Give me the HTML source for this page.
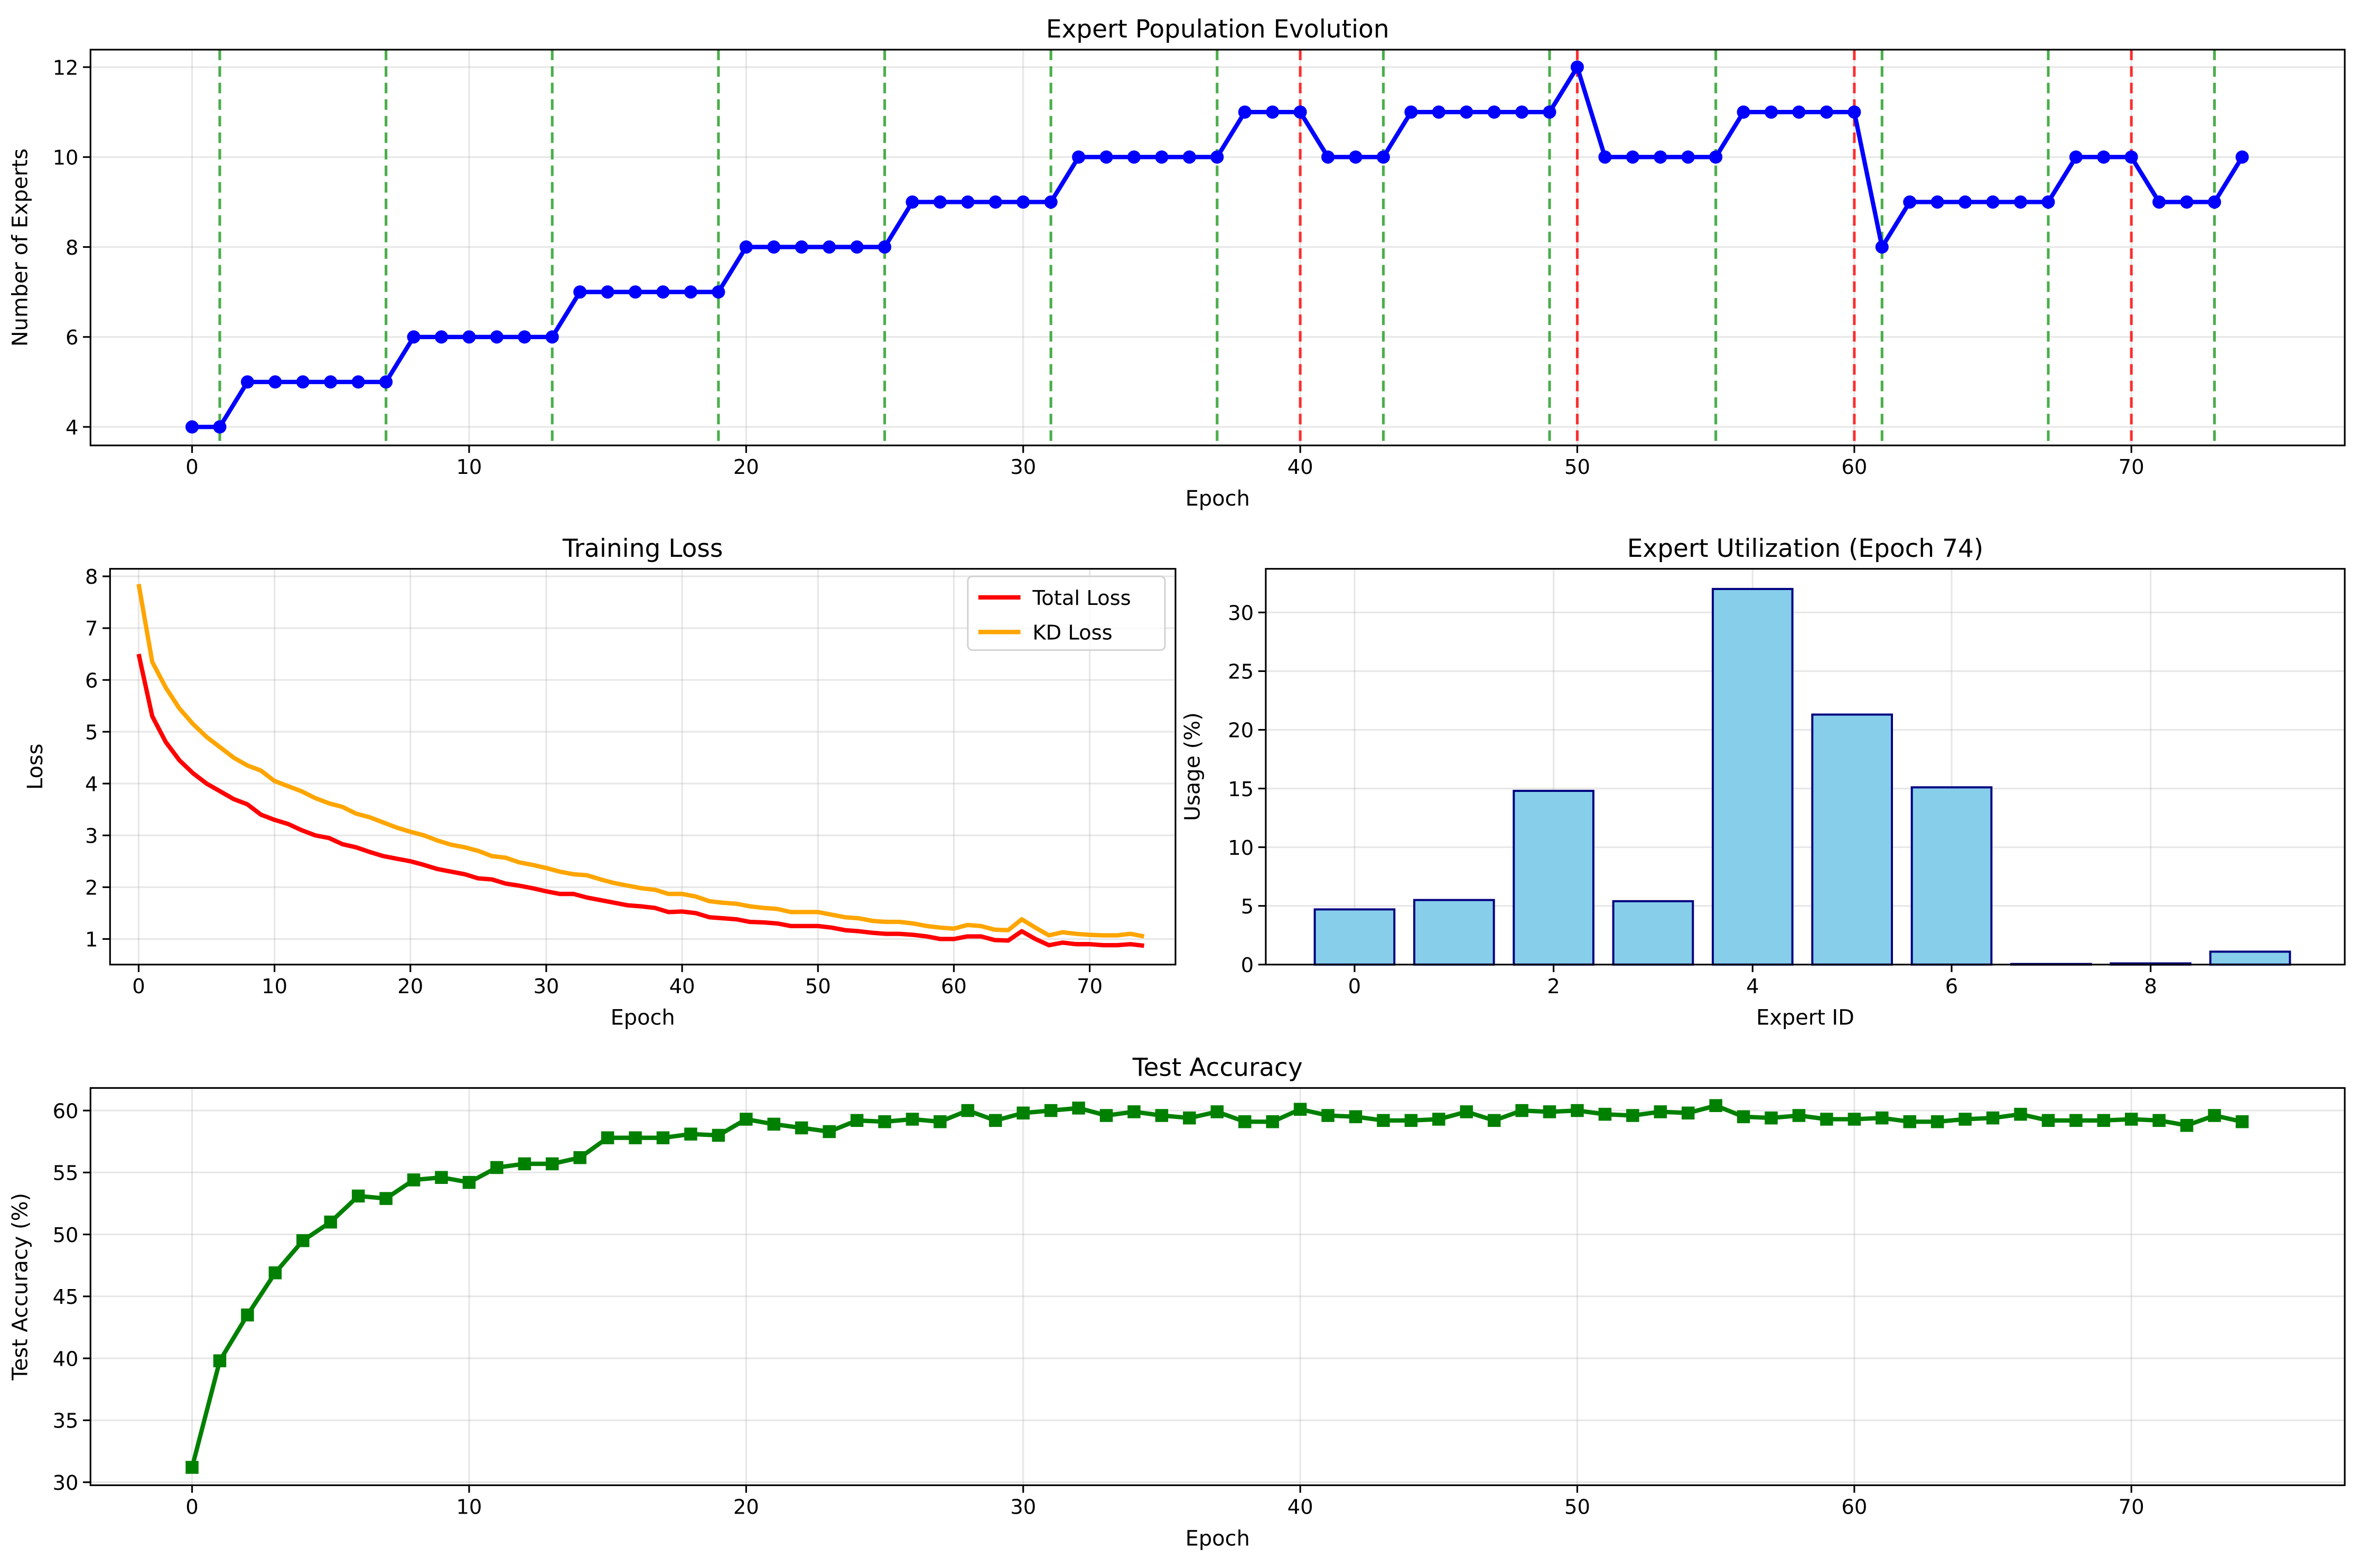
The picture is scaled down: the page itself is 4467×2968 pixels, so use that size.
<!DOCTYPE html>
<html><head><meta charset="utf-8"><style>
html,body{margin:0;padding:0;background:#fff}
svg{display:block}
text{font-family:"DejaVu Sans","Liberation Sans",sans-serif;fill:#000}
</style></head><body>
<svg id="fig" width="4467" height="2968" viewBox="0 0 1568 1042" xmlns="http://www.w3.org/2000/svg"></svg>
<script>
const popEpochs = Array.from({length:75},(_,i)=>i);
const popCounts = [4,4,5,5,5,5,5,5,6,6,6,6,6,6,7,7,7,7,7,7,8,8,8,8,8,8,9,9,9,9,9,9,10,10,10,10,10,10,11,11,11,10,10,10,11,11,11,11,11,11,12,10,10,10,10,10,11,11,11,11,11,8,9,9,9,9,9,9,10,10,10,9,9,9,10];
const addEvents = [1,7,13,19,25,31,37,43,49,55,61,67,73];
const pruneEvents = [40,50,60,70];
const totalLoss = [6.5,5.3,4.8,4.45,4.2,4.0,3.85,3.7,3.6,3.4,3.3,3.22,3.1,3.0,2.95,2.83,2.77,2.68,2.6,2.55,2.5,2.43,2.35,2.3,2.25,2.17,2.15,2.07,2.03,1.98,1.92,1.87,1.87,1.8,1.75,1.7,1.65,1.63,1.6,1.52,1.53,1.5,1.42,1.4,1.38,1.33,1.32,1.3,1.25,1.25,1.25,1.22,1.17,1.15,1.12,1.1,1.1,1.08,1.05,1.0,1.0,1.05,1.05,0.98,0.97,1.15,1.0,0.88,0.93,0.9,0.9,0.88,0.88,0.9,0.87];
const kdLoss = [7.85,6.35,5.85,5.45,5.15,4.9,4.7,4.5,4.35,4.25,4.05,3.95,3.85,3.72,3.62,3.55,3.42,3.35,3.25,3.15,3.07,3.0,2.9,2.82,2.77,2.7,2.6,2.57,2.48,2.43,2.37,2.3,2.25,2.23,2.15,2.08,2.03,1.98,1.95,1.87,1.87,1.82,1.73,1.7,1.68,1.63,1.6,1.58,1.52,1.52,1.52,1.47,1.42,1.4,1.35,1.33,1.33,1.3,1.25,1.22,1.2,1.27,1.25,1.18,1.17,1.38,1.22,1.07,1.13,1.1,1.08,1.07,1.07,1.1,1.05];
const expertIds = [0,1,2,3,4,5,6,7,8,9];
const usage = [4.7,5.5,14.8,5.4,32.0,21.3,15.1,0.05,0.1,1.1];
const accuracy = [31.2,39.8,43.5,46.9,49.5,51.0,53.1,52.9,54.4,54.6,54.2,55.4,55.7,55.7,56.2,57.8,57.8,57.8,58.1,58.0,59.3,58.9,58.6,58.3,59.2,59.1,59.3,59.1,60.0,59.2,59.8,60.0,60.2,59.6,59.9,59.6,59.4,59.9,59.1,59.1,60.1,59.6,59.5,59.2,59.2,59.3,59.9,59.2,60.0,59.9,60.0,59.7,59.6,59.9,59.8,60.4,59.5,59.4,59.6,59.3,59.3,59.4,59.1,59.1,59.3,59.4,59.7,59.2,59.2,59.2,59.3,59.2,58.8,59.6,59.1];
const epochTicks = [0,10,20,30,40,50,60,70];
const popTicks = [4,6,8,10,12];
const lossTicks = [1,2,3,4,5,6,7,8];
const idTicks = [0,2,4,6,8];
const usageTicks = [0,5,10,15,20,25,30];
const accTicks = [30,35,40,45,50,55,60];

const NS="http://www.w3.org/2000/svg";
const svg=document.getElementById('fig');
function el(tag,attrs,parent,txt){const e=document.createElementNS(NS,tag);for(const k in attrs)e.setAttribute(k,attrs[k]);if(txt!==undefined)e.textContent=txt;(parent||svg).appendChild(e);return e;}
function lin(d0,d1,r0,r1){return v=>r0+(v-d0)*(r1-r0)/(d1-d0);}

function axes(name,box,xs,ys,xt,yt,title,xl,yl,ylx){
  const g=el('g',{},svg);
  
  
  const [L,T,R,B]=box;
  xt.forEach(v=>{const l=el('line',{x1:xs(v),x2:xs(v),y1:T,y2:B,stroke:'#b0b0b0','stroke-opacity':0.3,'stroke-width':1.1},g);});
  yt.forEach(v=>{const l=el('line',{x1:L,x2:R,y1:ys(v),y2:ys(v),stroke:'#b0b0b0','stroke-opacity':0.3,'stroke-width':1.1},g);});
  const plot=el('g',{},g);
  
  
  const fr=el('rect',{x:L,y:T,width:R-L,height:B-T,fill:'none',stroke:'#000','stroke-width':1.1},g);
  
  xt.forEach(v=>{el('line',{x1:xs(v),x2:xs(v),y1:B,y2:B+5,stroke:'#000','stroke-width':1.1},g);
    const t=el('text',{x:xs(v),y:B+19,'font-size':13.5,'text-anchor':'middle'},g,String(v));});
  yt.forEach(v=>{el('line',{x1:L-5,x2:L,y1:ys(v),y2:ys(v),stroke:'#000','stroke-width':1.1},g);
    const t=el('text',{x:L-8,y:ys(v)+5,'font-size':13.5,'text-anchor':'end'},g,String(v));});
  const tt=el('text',{x:(L+R)/2,y:T-8,'font-size':16.5,'text-anchor':'middle'},g,title);
  const xlab=el('text',{x:(L+R)/2,y:B+40,'font-size':14,'text-anchor':'middle'},g,xl);
  const ylab=el('text',{x:ylx,y:(T+B)/2,'font-size':14,'text-anchor':'middle',transform:`rotate(-90 ${ylx} ${(T+B)/2})`},g,yl);
  // move frame to top
  g.appendChild(fr);
  return plot;
}
function polyline(g,xs,ys,xsArr,ysArr,color,name){
  const p=el('polyline',{points:xsArr.map((x,i)=>xs(x)+','+ys(ysArr[i])).join(' '),fill:'none',stroke:color,'stroke-width':2.9,'stroke-linejoin':'round'},g);
  return p;
}

// Top
{
  const xs=lin(0,70,127.5,1416.2), ys=lin(4,12,283.7,44.6);
  const g=axes('expert-population-chart',[60,33,1558,296],xs,ys,epochTicks,popTicks,'Expert Population Evolution','Epoch','Number of Experts',18);
  addEvents.forEach(e=>{const l=el('line',{x1:xs(e),x2:xs(e),y1:33,y2:296,stroke:'#2ca02c','stroke-opacity':0.85,'stroke-width':1.8,'stroke-dasharray':'7,4'},g);});
  pruneEvents.forEach(e=>{const l=el('line',{x1:xs(e),x2:xs(e),y1:33,y2:296,stroke:'#ff0000','stroke-opacity':0.8,'stroke-width':1.8,'stroke-dasharray':'7,4'},g);});
  polyline(g,xs,ys,popEpochs,popCounts,'#0000ff','expert-count-line');
  popEpochs.forEach((e,i)=>{const c=el('circle',{cx:xs(e),cy:ys(popCounts[i]),r:4.4,fill:'#0000ff'},g);});
}
// Mid-left
{
  const xs=lin(0,70,92,724), ys=lin(1,8,624,383);
  const g=axes('training-loss-chart',[73,378,781,641],xs,ys,epochTicks,lossTicks,'Training Loss','Epoch','Loss',28);
  polyline(g,xs,ys,popEpochs,totalLoss,'#ff0000','total-loss-line');
  polyline(g,xs,ys,popEpochs,kdLoss,'#ffa500','kd-loss-line');
  const lg=el('g',{},svg);
  el('rect',{x:643,y:383,width:131,height:49,rx:3,fill:'#fff','fill-opacity':0.8,stroke:'#d0d0d0','stroke-width':1},lg);
  el('line',{x1:650,x2:678,y1:397,y2:397,stroke:'#ff0000','stroke-width':2.9},lg);
  const t1=el('text',{x:686,y:402,'font-size':13.5},lg,'Total Loss');
  el('line',{x1:650,x2:678,y1:420,y2:420,stroke:'#ffa500','stroke-width':2.9},lg);
  const t2=el('text',{x:686,y:425,'font-size':13.5},lg,'KD Loss');
}
// Mid-right
{
  const xs=lin(0,8,900,1429), ys=lin(0,30,641,407);
  const g=axes('expert-utilization-chart',[841,378,1558,641],xs,ys,idTicks,usageTicks,'Expert Utilization (Epoch 74)','Expert ID','Usage (%)',797);
  expertIds.forEach((id,i)=>{const x0=xs(id-0.4),x1=xs(id+0.4),y0=ys(usage[i]);
    const r=el('rect',{x:x0,y:y0,width:x1-x0,height:ys(0)-y0,fill:'#87ceeb',stroke:'#000080','stroke-width':1.4},g);
    });
}
// Bottom
{
  const xs=lin(0,70,127.5,1416.2), ys=lin(30,60,985,738);
  const g=axes('test-accuracy-chart',[60,723,1558,987],xs,ys,epochTicks,accTicks,'Test Accuracy','Epoch','Test Accuracy (%)',18);
  polyline(g,xs,ys,popEpochs,accuracy,'#008000','accuracy-line');
  popEpochs.forEach((e,i)=>{const r=el('rect',{x:xs(e)-4.3,y:ys(accuracy[i])-4.3,width:8.6,height:8.6,fill:'#008000'},g);});
}
</script>
</body></html>
